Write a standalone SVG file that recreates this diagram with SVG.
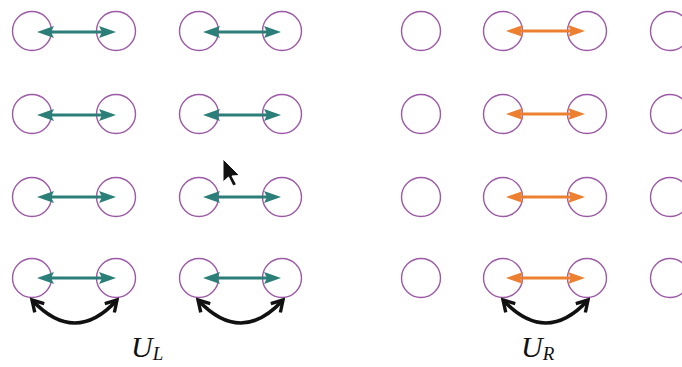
<svg xmlns="http://www.w3.org/2000/svg" width="682" height="367" viewBox="0 0 682 367">
<defs>
<style>
.c{fill:none;stroke:#9c5aa6;stroke-width:1.4}
.t{stroke:#2b7f78;stroke-width:3;fill:none}
.o{stroke:#ec8030;stroke-width:3;fill:none}
.k{stroke:#111;stroke-width:3.6;fill:none}
.lbl{font-family:"Liberation Serif","DejaVu Serif",serif;font-style:italic;fill:#111}
</style>
<marker id="ht" viewBox="0 0 17 12" refX="4" refY="6" markerWidth="17" markerHeight="12" markerUnits="userSpaceOnUse" orient="auto-start-reverse"><path d="M0,0 L17,6 L0,12 L3,6 Z" fill="#2b7f78"/></marker>
<marker id="ho" viewBox="0 0 17 12" refX="4" refY="6" markerWidth="17" markerHeight="12" markerUnits="userSpaceOnUse" orient="auto-start-reverse"><path d="M0,0 L17,6 L0,12 L3,6 Z" fill="#ec8030"/></marker>
<marker id="hk" viewBox="0 0 16 16" refX="13" refY="8" markerWidth="16" markerHeight="16" markerUnits="userSpaceOnUse" orient="auto-start-reverse"><path d="M2,1.5 L13,8 L2,14.5" fill="none" stroke="#111" stroke-width="3.4" stroke-linejoin="miter"/></marker>
</defs>
<rect width="682" height="367" fill="#fff"/>
<g id="nodes">
<g id="row1"><circle class="c" cx="32" cy="31" r="19.5"/><circle class="c" cx="116" cy="31" r="19.5"/><circle class="c" cx="199" cy="31" r="19.5"/><circle class="c" cx="282" cy="31" r="19.5"/><circle class="c" cx="421" cy="31" r="19.5"/><circle class="c" cx="503" cy="31" r="19.5"/><circle class="c" cx="587" cy="31" r="19.5"/><circle class="c" cx="670" cy="31" r="19.5"/></g>
<g id="row2"><circle class="c" cx="32" cy="114" r="19.5"/><circle class="c" cx="116" cy="114" r="19.5"/><circle class="c" cx="199" cy="114" r="19.5"/><circle class="c" cx="282" cy="114" r="19.5"/><circle class="c" cx="421" cy="114" r="19.5"/><circle class="c" cx="503" cy="114" r="19.5"/><circle class="c" cx="587" cy="114" r="19.5"/><circle class="c" cx="670" cy="114" r="19.5"/></g>
<g id="row3"><circle class="c" cx="32" cy="197" r="19.5"/><circle class="c" cx="116" cy="197" r="19.5"/><circle class="c" cx="199" cy="197" r="19.5"/><circle class="c" cx="282" cy="197" r="19.5"/><circle class="c" cx="421" cy="197" r="19.5"/><circle class="c" cx="503" cy="197" r="19.5"/><circle class="c" cx="587" cy="197" r="19.5"/><circle class="c" cx="670" cy="197" r="19.5"/></g>
<g id="row4"><circle class="c" cx="32" cy="278" r="19.5"/><circle class="c" cx="116" cy="278" r="19.5"/><circle class="c" cx="199" cy="278" r="19.5"/><circle class="c" cx="282" cy="278" r="19.5"/><circle class="c" cx="421" cy="278" r="19.5"/><circle class="c" cx="503" cy="278" r="19.5"/><circle class="c" cx="587" cy="278" r="19.5"/><circle class="c" cx="670" cy="278" r="19.5"/></g>
</g>
<g id="connectors">
<path class="t" d="M50,32 H103" marker-start="url(#ht)" marker-end="url(#ht)"/>
<path class="t" d="M216,32 H268" marker-start="url(#ht)" marker-end="url(#ht)"/>
<path class="t" d="M50,115 H103" marker-start="url(#ht)" marker-end="url(#ht)"/>
<path class="t" d="M216,115 H268" marker-start="url(#ht)" marker-end="url(#ht)"/>
<path class="t" d="M50,197 H103" marker-start="url(#ht)" marker-end="url(#ht)"/>
<path class="t" d="M216,197 H268" marker-start="url(#ht)" marker-end="url(#ht)"/>
<path class="t" d="M50,278 H103" marker-start="url(#ht)" marker-end="url(#ht)"/>
<path class="t" d="M216,278 H268" marker-start="url(#ht)" marker-end="url(#ht)"/>
<path class="o" d="M519,31 H572" marker-start="url(#ho)" marker-end="url(#ho)"/>
<path class="o" d="M519,114 H572" marker-start="url(#ho)" marker-end="url(#ho)"/>
<path class="o" d="M519,197 H572" marker-start="url(#ho)" marker-end="url(#ho)"/>
<path class="o" d="M519,278 H572" marker-start="url(#ho)" marker-end="url(#ho)"/>
<path class="k" d="M32,300 Q75,346 117,300" marker-start="url(#hk)" marker-end="url(#hk)"/>
<path class="k" d="M198,300 Q241,346 283,300" marker-start="url(#hk)" marker-end="url(#hk)"/>
<path class="k" d="M503,300 Q546,346 588,300" marker-start="url(#hk)" marker-end="url(#hk)"/>
</g>
<g id="labels">
<text class="lbl" x="131" y="357" font-size="30">U<tspan font-size="19" dy="3">L</tspan></text>
<text class="lbl" x="521" y="357" font-size="30">U<tspan font-size="19" dy="3">R</tspan></text>
</g>
<path id="cursor" d="M223,159 L223,182 L228.5,177 L233,186 L236.5,184.5 L232,176 L239.5,175.5 Z" fill="#111" stroke="#fff" stroke-width="1"/>
</svg>
